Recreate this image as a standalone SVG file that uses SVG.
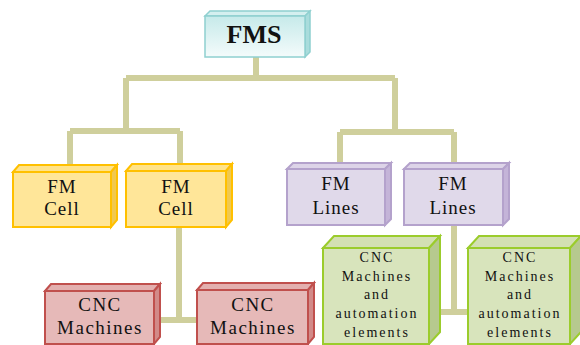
<svg xmlns="http://www.w3.org/2000/svg" width="580" height="345" viewBox="0 0 580 345">
<defs>
<linearGradient id="gFms" x1="0" y1="0" x2="0" y2="1">
<stop offset="0" stop-color="#c6eaea"/>
<stop offset="1" stop-color="#f4fbfb"/>
</linearGradient>
<style>
.conn{fill:none;stroke:#cfcf9c;stroke-width:6;stroke-linecap:butt;stroke-linejoin:miter}
.t{font-family:"Liberation Serif","Times New Roman",serif;fill:#111;text-anchor:middle}
.fms .f{fill:url(#gFms);stroke:#8fd0d0;stroke-width:1.5}
.fms .tp{fill:#d4efef;stroke:#8fd0d0;stroke-width:1.5}
.fms .sd{fill:#a9dcdc;stroke:#8fd0d0;stroke-width:1.5}
.yel .f{fill:#ffe699;stroke:#ffc000;stroke-width:2}
.yel .tp{fill:#ffe38a;stroke:#ffc000;stroke-width:2}
.yel .sd{fill:#f0c850;stroke:#ffc000;stroke-width:2}
.pur .f{fill:#e0d9ea;stroke:#b4a2cc;stroke-width:2}
.pur .tp{fill:#ddd4e8;stroke:#b4a2cc;stroke-width:2}
.pur .sd{fill:#c4b4d8;stroke:#b4a2cc;stroke-width:2}
.red .f{fill:#e6b9b8;stroke:#c0504d;stroke-width:2}
.red .tp{fill:#e3b0af;stroke:#c0504d;stroke-width:2}
.red .sd{fill:#d28a88;stroke:#c0504d;stroke-width:2}
.grn .f{fill:#d8e4bc;stroke:#9bcc2c;stroke-width:2}
.grn .tp{fill:#d3e0b3;stroke:#9bcc2c;stroke-width:2}
.grn .sd{fill:#b6c98e;stroke:#9bcc2c;stroke-width:2}
.cell{font-size:19px;letter-spacing:1px}
.cnc{font-size:19px;letter-spacing:1.5px}
.aut{font-size:14px;letter-spacing:2px}
</style>
</defs>
<g id="connectors">
<polyline class="conn" points="256,57 256,78"/>
<polyline class="conn" points="126,78 395,78"/>
<polyline class="conn" points="126,78 126,131"/>
<polyline class="conn" points="70,131 180,131"/>
<polyline class="conn" points="70,131 70,166"/>
<polyline class="conn" points="180,131 180,165"/>
<polyline class="conn" points="395,78 395,132"/>
<polyline class="conn" points="340,132 454,132"/>
<polyline class="conn" points="340,132 340,164"/>
<polyline class="conn" points="454,132 454,164"/>
<polyline class="conn" points="179,227 179,320"/>
<polyline class="conn" points="158,320 198,320"/>
<polyline class="conn" points="454,225 454,312"/>
<polyline class="conn" points="436,312 469,312"/>
</g>
<g id="fms" class="fms">
<polygon class="tp" points="205,16 210,11 310,11 305,16"/>
<polygon class="sd" points="305,16 310,11 310,52 305,57"/>
<rect class="f" x="205" y="16" width="100" height="41"/>
<text class="t" x="254" y="43" font-size="26" font-weight="bold">FMS</text>
</g>
<g id="cell1" class="yel">
<polygon class="tp" points="13,172 19,165 117,165 111,172"/>
<polygon class="sd" points="111,172 117,165 117,220 111,227"/>
<rect class="f" x="13" y="172" width="98" height="55"/>
<text class="t cell" x="62" y="193">FM</text>
<text class="t cell" x="62" y="215">Cell</text>
</g>
<g id="cell2" class="yel">
<polygon class="tp" points="126,171 132,164 232,164 226,171"/>
<polygon class="sd" points="226,171 232,164 232,220 226,227"/>
<rect class="f" x="126" y="171" width="100" height="56"/>
<text class="t cell" x="176" y="193">FM</text>
<text class="t cell" x="176" y="215">Cell</text>
</g>
<g id="lines1" class="pur">
<polygon class="tp" points="287,169 293,163 391,163 385,169"/>
<polygon class="sd" points="385,169 391,163 391,219 385,225"/>
<rect class="f" x="287" y="169" width="98" height="56"/>
<text class="t cell" x="336" y="190">FM</text>
<text class="t cell" x="336" y="214">Lines</text>
</g>
<g id="lines2" class="pur">
<polygon class="tp" points="404,169 410,163 509,163 503,169"/>
<polygon class="sd" points="503,169 509,163 509,219 503,225"/>
<rect class="f" x="404" y="169" width="99" height="56"/>
<text class="t cell" x="453" y="190">FM</text>
<text class="t cell" x="453" y="214">Lines</text>
</g>
<g id="cnc1" class="red">
<polygon class="tp" points="45,291 51,284 160,284 154,291"/>
<polygon class="sd" points="154,291 160,284 160,337 154,344"/>
<rect class="f" x="45" y="291" width="109" height="53"/>
<text class="t cnc" x="100" y="311">CNC</text>
<text class="t cnc" x="100" y="334">Machines</text>
</g>
<g id="cnc2" class="red">
<polygon class="tp" points="197,290 203,283 314,283 308,290"/>
<polygon class="sd" points="308,290 314,283 314,337 308,344"/>
<rect class="f" x="197" y="290" width="111" height="54"/>
<text class="t cnc" x="253" y="311">CNC</text>
<text class="t cnc" x="253" y="334">Machines</text>
</g>
<g id="auto1" class="grn">
<polygon class="tp" points="323,248 334,236 440,236 429,248"/>
<polygon class="sd" points="429,248 440,236 440,332 429,344"/>
<rect class="f" x="323" y="248" width="106" height="96"/>
<text class="t aut" x="377" y="262">CNC</text>
<text class="t aut" x="377" y="281">Machines</text>
<text class="t aut" x="377" y="299">and</text>
<text class="t aut" x="377" y="318">automation</text>
<text class="t aut" x="377" y="337">elements</text>
</g>
<g id="auto2" class="grn">
<polygon class="tp" points="468,248 479,236 581,236 570,248"/>
<polygon class="sd" points="570,248 581,236 581,332 570,344"/>
<rect class="f" x="468" y="248" width="102" height="96"/>
<text class="t aut" x="520" y="262">CNC</text>
<text class="t aut" x="520" y="281">Machines</text>
<text class="t aut" x="520" y="299">and</text>
<text class="t aut" x="520" y="318">automation</text>
<text class="t aut" x="520" y="337">elements</text>
</g>
</svg>
